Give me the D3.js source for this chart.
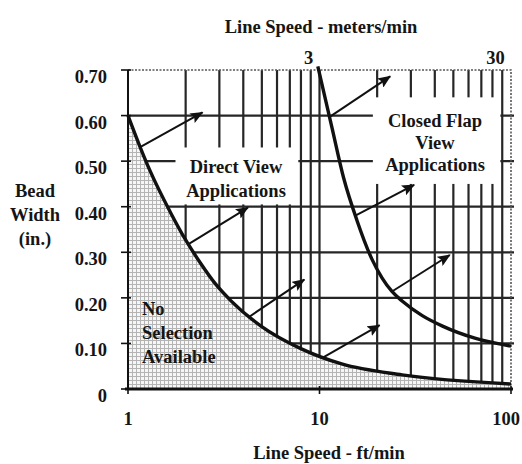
<!DOCTYPE html>
<html>
<head>
<meta charset="utf-8">
<script src="https://cdn.jsdelivr.net/npm/d3@7"></script>
<style>
  body { margin: 0; background: #fff; }
  text { font-family: "Liberation Serif", "Times New Roman", serif; font-weight: bold; font-size: 18.5px; fill: #151515; }
</style>
</head>
<body>
<svg width="522" height="464"></svg>
<script>
// Bottom axis ticks (ft/min) and top axis ticks (meters/min)
const ftTicks = [1, 10, 100];
const ftLabels = ["1", "10", "100"];
const meterTicks = [3, 30];
const meterLabels = ["3", "30"];

// Bead width ticks (in.)
const widthTicks = [0, 0.1, 0.2, 0.3, 0.4, 0.5, 0.6, 0.7];
const widthLabels = ["0", "0.10", "0.20", "0.30", "0.40", "0.50", "0.60", "0.70"];

// log grid lines, ft/min
const gridFt = [2, 3, 4, 5, 6, 7, 8, 9, 10, 20, 30, 40, 50, 60, 70, 80, 90];
const gridWidth = [0.1, 0.2, 0.3, 0.4, 0.5, 0.6];

// Direct view limit curve: [ft/min, bead width in.]
const directView = [
  [1, 0.60], [1.157, 0.531], [1.306, 0.478], [1.664, 0.388], [2.0, 0.327],
  [2.393, 0.276], [2.87, 0.230], [3.44, 0.194], [4.95, 0.138], [8.04, 0.088],
  [13.05, 0.055], [27.0, 0.031], [100, 0.011]
];

// Closed flap view limit curve
const closedFlap = [
  [9.8, 0.708], [11.57, 0.577], [13.37, 0.463], [15.66, 0.371], [18.78, 0.285],
  [21.2, 0.244], [23.9, 0.214], [27.0, 0.193], [34.4, 0.161], [43.9, 0.138],
  [65.4, 0.111], [100, 0.094]
];

// arrows: [from ft, from in., to ft, to in.]
const arrows = [
  [1.157, 0.531, 2.45, 0.607],
  [2.07, 0.318, 4.23, 0.398],
  [4.28, 0.158, 8.33, 0.24],
  [10.3, 0.068, 20.6, 0.14],
  [11.3, 0.597, 23.4, 0.686],
  [15.3, 0.38, 31.2, 0.448],
  [23.9, 0.214, 47.9, 0.294]
];

// white areas behind the region labels: [ft0, ft1, in0, in1]
const labelBoxes = [
  [1.77, 7.75, 0.405, 0.53],
  [19, 88, 0.45, 0.64]
];

const svg = d3.select("svg");
const plotLeft = 128, plotRight = 511, plotTop = 70, plotBottom = 389;

const x = d3.scaleLog().domain([1, 100]).range([plotLeft, plotRight]);
const xTop = d3.scaleLog().domain([0.3048, 30.48]).range([plotLeft, plotRight]);
const y = d3.scaleLinear().domain([0, 0.7]).range([plotBottom, plotTop]);

// pattern for the "no selection" area
const defs = svg.append("defs");
const pat = defs.append("pattern")
  .attr("id", "hatch")
  .attr("width", 4).attr("height", 4)
  .attr("patternUnits", "userSpaceOnUse");
pat.append("rect").attr("width", 4).attr("height", 4).attr("fill", "#f6f6f6");
pat.append("path").attr("d", "M0,0.5H4M0.5,0V4")
  .attr("stroke", "#b4b4b4").attr("stroke-width", 1);

defs.append("marker")
  .attr("id", "head")
  .attr("viewBox", "0 0 13 11")
  .attr("refX", 12).attr("refY", 5.5)
  .attr("markerWidth", 13).attr("markerHeight", 11)
  .attr("markerUnits", "userSpaceOnUse")
  .attr("orient", "auto")
  .append("path").attr("d", "M0,0L13,5.5L0,11L2.5,5.5Z").attr("fill", "#111");

// grid
svg.append("g").selectAll("line")
  .data(gridFt).enter().append("line")
  .attr("x1", d => x(d)).attr("x2", d => x(d))
  .attr("y1", plotTop).attr("y2", plotBottom)
  .attr("stroke", "#262626").attr("stroke-width", 2.2);

svg.append("g").selectAll("line")
  .data(gridWidth).enter().append("line")
  .attr("x1", plotLeft).attr("x2", plotRight + 3)
  .attr("y1", d => y(d)).attr("y2", d => y(d))
  .attr("stroke", "#262626").attr("stroke-width", 2.2);

// dotted top and right border
svg.append("path")
  .attr("d", `M${plotLeft},${y(0.7)}H${x(100)}V${plotBottom}`)
  .attr("fill", "none").attr("stroke", "#555")
  .attr("stroke-width", 1.6).attr("stroke-dasharray", "2,1.5");

// label boxes hide the grid
svg.append("g").selectAll("rect")
  .data(labelBoxes).enter().append("rect")
  .attr("x", d => x(d[0])).attr("width", d => x(d[1]) - x(d[0]))
  .attr("y", d => y(d[3])).attr("height", d => y(d[2]) - y(d[3]))
  .attr("fill", "#fff");

// shaded area under direct view curve
const area = d3.area()
  .x(d => x(d[0])).y0(y(0)).y1(d => y(d[1]))
  .curve(d3.curveMonotoneX);
svg.append("path").datum(directView)
  .attr("d", area).attr("fill", "url(#hatch)");

// curves
const line = d3.line().x(d => x(d[0])).y(d => y(d[1])).curve(d3.curveMonotoneX);
[directView, closedFlap].forEach(c => {
  svg.append("path").datum(c)
    .attr("d", line).attr("fill", "none")
    .attr("stroke", "#111").attr("stroke-width", 3.4);
});

// arrows
svg.append("g").selectAll("line")
  .data(arrows).enter().append("line")
  .attr("x1", d => x(d[0])).attr("y1", d => y(d[1]))
  .attr("x2", d => x(d[2])).attr("y2", d => y(d[3]))
  .attr("stroke", "#111").attr("stroke-width", 2)
  .attr("marker-end", "url(#head)");

// left axis
svg.append("line")
  .attr("x1", plotLeft).attr("x2", plotLeft).attr("y1", plotTop).attr("y2", plotBottom)
  .attr("stroke", "#111").attr("stroke-width", 2);
svg.append("g").selectAll("line")
  .data(widthTicks).enter().append("line")
  .attr("x1", plotLeft - 7).attr("x2", plotLeft + 3)
  .attr("y1", d => y(d)).attr("y2", d => y(d))
  .attr("stroke", "#111").attr("stroke-width", 1.6);
svg.append("g").selectAll("text")
  .data(widthTicks).enter().append("text")
  .attr("x", 107).attr("y", d => y(d) + 7)
  .attr("text-anchor", "end").attr("dominant-baseline", "central")
  .text((d, i) => widthLabels[i]);

// bottom axis
svg.append("line")
  .attr("x1", plotLeft - 3).attr("x2", plotRight + 2).attr("y1", plotBottom).attr("y2", plotBottom)
  .attr("stroke", "#111").attr("stroke-width", 3);
svg.append("g").selectAll("line")
  .data(ftTicks).enter().append("line")
  .attr("x1", d => x(d)).attr("x2", d => x(d))
  .attr("y1", plotBottom - 3).attr("y2", plotBottom + 5)
  .attr("stroke", "#111").attr("stroke-width", 1.6);
svg.append("g").selectAll("text")
  .data(ftTicks).enter().append("text")
  .attr("x", d => Math.min(x(d), 506)).attr("y", 419)
  .attr("text-anchor", "middle").attr("dominant-baseline", "central")
  .text((d, i) => ftLabels[i]);

// top axis labels (meters/min)
svg.append("g").selectAll("text")
  .data(meterTicks).enter().append("text")
  .attr("x", d => xTop(d) - 5).attr("y", 58)
  .attr("text-anchor", "end").attr("dominant-baseline", "central")
  .text((d, i) => meterLabels[i]);

// titles
svg.append("text").attr("x", 321).attr("y", 33).attr("text-anchor", "middle")
  .text("Line Speed - meters/min");
svg.append("text").attr("x", 329).attr("y", 459).attr("text-anchor", "middle")
  .text("Line Speed - ft/min");
["Bead", "Width", "(in.)"].forEach((t, i) => {
  svg.append("text").attr("x", 35).attr("y", 197 + i * 24)
    .attr("text-anchor", "middle").text(t);
});

// region labels
["Direct View", "Applications"].forEach((t, i) => {
  svg.append("text").attr("x", 236).attr("y", 173 + i * 24)
    .attr("text-anchor", "middle").text(t);
});
["Closed Flap", "View", "Applications"].forEach((t, i) => {
  svg.append("text").attr("x", 435).attr("y", 127 + i * 22)
    .attr("text-anchor", "middle").text(t);
});
["No", "Selection", "Available"].forEach((t, i) => {
  svg.append("text").attr("x", 142).attr("y", 315 + i * 24)
    .text(t);
});
</script>
</body>
</html>
